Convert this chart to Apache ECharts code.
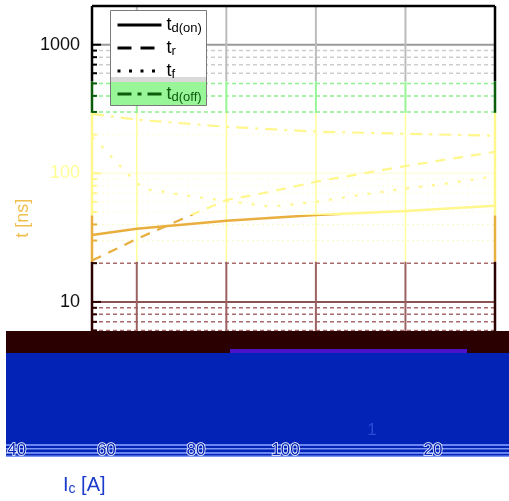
<!DOCTYPE html>
<html><head><meta charset="utf-8">
<script src="https://cdn.jsdelivr.net/npm/echarts@6/dist/echarts.min.js"></script>
<style>html,body{margin:0;padding:0;background:#fff}#c{width:509px;height:501px}</style>
</head><body><div id="c"></div>
<script>
// ---- data ----
const seriesNames = ['td(on)', 'tr', 'tf', 'td(off)'];
const tdOnX = [30, 40, 60, 80, 100, 120];
const tdOnY = [33.2, 37, 42.7, 47.5, 51, 56];
const trX = [30, 35, 40, 50, 60, 70, 80, 100, 120];
const trY = [21, 25.4, 30.9, 44, 62, 72, 86, 114, 147];
const tfX = [30, 32.5, 35, 37.5, 40, 42.5, 45, 50, 60, 70, 80, 90, 100, 110, 120];
const tfY = [192, 158, 127, 103, 84, 74.5, 73, 68, 61, 55, 60, 68, 76, 84, 95];
const tdOffX = [30, 40, 60, 80, 100, 120];
const tdOffY = [290, 261, 230, 211, 203, 196];
const xRange = [30, 120];
const yRange = [1, 2000];
const xGridTicks = [40, 60, 80, 100];
const yMajor = [10, 100, 1000];
const yMinor = [6, 7, 8, 9, 20, 30, 40, 50, 60, 70, 80, 90, 200, 300, 400, 500, 600, 700, 800, 900];

const FONT = '"Liberation Sans", Arial, sans-serif';
const zip = (xs, ys) => xs.map((x, i) => [x, ys[i]]);

// colour bands by value (styles)
const bands = [
  {lo: 520, hi: 2000, minor: '#cdcdcd', major: '#9a9a9a', dash: [4, 3], tick: '#000', vgrid: '#bcbcbc', vw: 2, axis: '#000'},
  {lo: 295, hi: 520, minor: '#8ef08e', major: '#8ef08e', dash: [4, 3], tick: '#0b5d0b', vgrid: '#96f596', vw: 2, axis: '#0b5d0b'},
  {lo: 47, hi: 295, minor: '#fdfde4', major: '#fdfde4', dash: [2, 3], tick: '#fff68c', vgrid: '#ffff9c', vw: 1.5, axis: '#fff68c'},
  {lo: 20.5, hi: 47, minor: '#f9f9d2', major: '#f9f9d2', dash: [2, 3], tick: '#e8ae3e', vgrid: '#ffff9c', vw: 1.5, axis: '#e8ae3e'},
  {lo: 1, hi: 20.5, minor: '#a86a6a', major: '#8a5252', dash: [4, 3], tick: '#2b0000', vgrid: '#9c6262', vw: 2, axis: '#2b0000'}
];
const bandOf = v => bands.find(b => v >= b.lo && v < b.hi) || bands[0];

function decor(params, api) {
  const ch = [];
  const P = pt => api.coord(pt);
  const line = (a, b, stroke, w, dash) => ch.push({type: 'line', shape: {x1: a[0], y1: a[1], x2: b[0], y2: b[1]}, style: {stroke: stroke, lineWidth: w, lineDash: dash || null}});
  yMajor.concat(yMinor).forEach(v => {
    const b = bandOf(v), major = yMajor.includes(v);
    line(P([xRange[0], v]), P([xRange[1], v]), major ? b.major : b.minor, major ? 2 : 1.5, major ? null : b.dash);
  });
  xGridTicks.forEach(x => bands.forEach(b => line(P([x, b.lo]), P([x, b.hi]), b.vgrid, b.vw)));
  yMajor.concat(yMinor).forEach(v => {
    const b = bandOf(v), major = yMajor.includes(v);
    const p = P([xRange[0], v]);
    line(p, [p[0] + (major ? 9 : 5), p[1]], b.tick, 2);
  });
  [xRange[0], xRange[1]].forEach(x => bands.forEach(b => line(P([x, b.lo]), P([x, b.hi]), b.axis, 2.5)));
  line(P([xRange[0], yRange[1]]), P([xRange[1], yRange[1]]), '#000', 2.5);
  return {type: 'group', children: ch};
}

const legendColors = ['#000', '#000', '#000', '#0b5d0b'];
const legendDash = ['solid', [14, 9], [3, 8.5], [14, 6, 4, 6]];
const subs = {'td(on)': 'd(on)', 'tr': 'r', 'tf': 'f', 'td(off)': 'd(off)'};
const seriesDash = ['solid', [10, 8], [3, 10], [12, 7, 3, 7]];
const seriesData = [zip(tdOnX, tdOnY), zip(trX, trY), zip(tfX, tfY), zip(tdOffX, tdOffY)];

const chart = echarts.init(document.getElementById('c'), null, {renderer: 'canvas'});
chart.setOption({
  backgroundColor: '#fff',
  animation: false,
  grid: [
    {left: 92, top: 6, width: 403, height: 424.5, outerBoundsMode: 'none', containLabel: false},
    {left: -28, top: 6, width: 403, height: 424.5, outerBoundsMode: 'none', containLabel: false}
  ],
  xAxis: [
    {type: 'value', gridIndex: 0, min: xRange[0], max: xRange[1], axisLine: {show: false}, axisTick: {show: false}, axisLabel: {show: false}, splitLine: {show: false}},
    {type: 'value', gridIndex: 1, min: xRange[0], max: xRange[1], z: 60, axisLine: {show: false}, axisTick: {show: false}, splitLine: {show: false},
     axisLabel: {show: true, showMinLabel: false, showMaxLabel: false, margin: 11, fontSize: 17, fontFamily: FONT, color: '#0524b5', textBorderColor: '#ffffff', textBorderWidth: 1.5}}
  ],
  yAxis: [
    {type: 'log', logBase: 10, gridIndex: 0, min: yRange[0], max: yRange[1],
     axisLine: {show: false}, axisTick: {show: false}, splitLine: {show: false}, minorTick: {show: false},
     axisLabel: {showMinLabel: false, showMaxLabel: false, margin: 12, fontSize: 18, fontFamily: FONT,
       formatter: v => String(Math.round(v)), color: v => (Math.round(v) === 100 ? '#ffff99' : '#111')},
     name: 't [ns]', nameLocation: 'middle', nameGap: 60, nameMoveOverlap: false,
     nameTextStyle: {color: '#efbf4f', fontSize: 18, fontFamily: FONT}},
    {type: 'value', gridIndex: 1, show: false}
  ],
  visualMap: {
    show: false, type: 'piecewise', dimension: 1, seriesIndex: [1, 2, 3, 4],
    pieces: [
      {gte: 520, color: '#000000'},
      {gte: 295, lt: 520, color: '#0b5d0b'},
      {gte: 47, lt: 295, color: '#fff68c'},
      {gte: 20.5, lt: 47, color: '#e8ae3e'},
      {lt: 20.5, color: '#3a0a0a'}
    ]
  },
  legend: {
    orient: 'vertical', left: 110, top: 11, padding: [5, 6, 5, 6], itemGap: 4, itemWidth: 44, itemHeight: 14, z: 10,
    data: seriesNames.map((n, i) => ({name: n, lineStyle: {color: legendColors[i], width: 3, type: legendDash[i]},
      itemStyle: {color: 'rgba(0,0,0,0)', opacity: 0, borderWidth: 0}, textStyle: {color: legendColors[i]}})),
    formatter: n => '{m|t}{s|' + subs[n] + '}',
    textStyle: {fontFamily: FONT, rich: {m: {fontSize: 18, lineHeight: 20, fontFamily: FONT}, s: {fontSize: 13, lineHeight: 14, fontFamily: FONT, verticalAlign: 'bottom'}}}
  },
  graphic: [
    {type: 'rect', z: 5, shape: {x: 110, y: 10, width: 97, height: 67}, style: {fill: '#fff'}},
    {type: 'rect', z: 5, shape: {x: 110, y: 77, width: 97, height: 5}, style: {fill: '#d9d9d9'}},
    {type: 'rect', z: 5, shape: {x: 110, y: 82, width: 97, height: 24}, style: {fill: '#98f598'}},
    {type: 'rect', z: 6, shape: {x: 110.5, y: 10.5, width: 96, height: 95}, style: {fill: 'none', stroke: '#7a7a7a', lineWidth: 1}},
    {type: 'rect', z: 50, shape: {x: 6, y: 331, width: 503, height: 22}, style: {fill: '#2b0000'}},
    {type: 'rect', z: 50, shape: {x: 6, y: 353, width: 503, height: 104}, style: {fill: '#0323b6'}},
    {type: 'rect', z: 51, shape: {x: 230, y: 349, width: 237, height: 4}, style: {fill: '#4b12c8'}},
    {type: 'rect', z: 52, shape: {x: 6, y: 444, width: 503, height: 2}, style: {fill: '#6a86f2'}},
    {type: 'rect', z: 52, shape: {x: 6, y: 448, width: 503, height: 1.5}, style: {fill: '#7d97f5'}},
    {type: 'rect', z: 52, shape: {x: 6, y: 452, width: 503, height: 2}, style: {fill: '#6a86f2'}},
    {type: 'rect', z: 52, shape: {x: 6, y: 455.5, width: 503, height: 1.5}, style: {fill: '#7d97f5'}},
    {type: 'text', z: 61, x: 372, y: 430, style: {text: '1', fill: '#2a4bd6', fontSize: 17, fontFamily: FONT, align: 'center', verticalAlign: 'middle'}},
    {type: 'text', z: 61, x: 433, y: 450, style: {text: '20', fill: '#0524b5', stroke: '#fff', lineWidth: 1.5, fontSize: 17, fontFamily: FONT, align: 'center', verticalAlign: 'middle'}},
    {type: 'text', z: 61, x: 63, y: 485, style: {text: '{m|I}{s|c}{m| [A]}', fill: '#1b3ccc', fontFamily: FONT, verticalAlign: 'middle',
      rich: {m: {fontSize: 20, lineHeight: 22, fill: '#1b3ccc', fontFamily: FONT}, s: {fontSize: 14, lineHeight: 12, fill: '#1b3ccc', fontFamily: FONT, verticalAlign: 'bottom'}}}}
  ],
  series: [
    {type: 'custom', name: '_grid', renderItem: decor, data: [[30, 1]], z: 1, silent: true, clip: false, xAxisIndex: 0, yAxisIndex: 0},
  ].concat(seriesNames.map((n, i) => ({
    type: 'line', name: n, data: seriesData[i], symbol: 'none', showSymbol: false, z: 2, xAxisIndex: 0, yAxisIndex: 0,
    lineStyle: {width: i === 0 ? 2.5 : 2.2, type: seriesDash[i]}
  })))
});
</script></body></html>
